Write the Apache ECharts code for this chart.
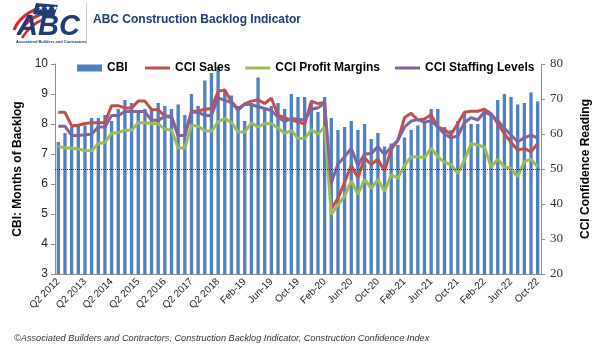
<!DOCTYPE html>
<html>
<head>
<meta charset="utf-8">
<title>ABC Construction Backlog Indicator</title>
<script src="https://cdn.jsdelivr.net/npm/echarts@6/dist/echarts.min.js"></script>
<style>
  html, body { margin: 0; padding: 0; background: #ffffff; }
  #chart_example { width: 600px; height: 354px; }
</style>
</head>
<body>
<div id="chart_example"></div>
<script>
// categories: quarterly until Q4 2018, then monthly
const categories = [
  "Q2 2012", "Q3 2012", "Q4 2012", "Q1 2013", "Q2 2013", "Q3 2013", "Q4 2013",
  "Q1 2014", "Q2 2014", "Q3 2014", "Q4 2014", "Q1 2015", "Q2 2015", "Q3 2015",
  "Q4 2015", "Q1 2016", "Q2 2016", "Q3 2016", "Q4 2016", "Q1 2017", "Q2 2017",
  "Q3 2017", "Q4 2017", "Q1 2018", "Q2 2018", "Q3 2018", "Q4 2018",
  "Jan-19", "Feb-19", "Mar-19", "Apr-19", "May-19", "Jun-19", "Jul-19", "Aug-19",
  "Sep-19", "Oct-19", "Nov-19", "Dec-19",
  "Jan-20", "Feb-20", "Mar-20", "Apr-20", "May-20", "Jun-20", "Jul-20", "Aug-20",
  "Sep-20", "Oct-20", "Nov-20", "Dec-20",
  "Jan-21", "Feb-21", "Mar-21", "Apr-21", "May-21", "Jun-21", "Jul-21", "Aug-21",
  "Sep-21", "Oct-21", "Nov-21", "Dec-21",
  "Jan-22", "Feb-22", "Mar-22", "Apr-22", "May-22", "Jun-22", "Jul-22", "Aug-22",
  "Sep-22", "Oct-22"
];

// CBI, months of backlog (left axis)
const cbi = [
  7.4, 7.7, 7.9, 8.0, 7.95, 8.2, 8.2, 8.3, 8.1, 8.5,
  8.8, 8.7, 8.45, 8.5, 8.5, 8.7, 8.6, 8.5, 8.65, 8.3,
  9.0, 8.6, 9.45, 9.7, 9.9, 9.1, 8.95, 8.6, 8.1, 8.7,
  9.55, 8.5, 8.6, 8.7, 8.5, 9.0, 8.9, 8.9, 8.7, 8.4,
  8.9, 8.2, 7.8, 7.9, 8.1, 7.8, 8.0, 7.5, 7.7, 7.25,
  7.35, 7.3, 7.55, 7.8, 7.95, 8.05, 8.5, 8.5, 7.9, 7.8,
  8.1, 8.4, 8.0, 8.0, 8.45, 8.3, 8.8, 9.0, 8.9, 8.65,
  8.7, 9.05, 8.75
];

// CCI readings (right axis)
const ccisales = [
  66.2, 66.2, 62.3, 62.5, 63.0, 63.2, 63.2, 63.3, 68.1, 68.1,
  67.4, 67.4, 69.4, 69.4, 67.0, 66.9, 65.2, 65.0, 59.6, 59.6,
  66.5, 66.5, 67.1, 67.3, 72.2, 72.6, 69.2, 67.2, 68.6, 69.4,
  69.8, 68.7, 70.2, 65.4, 64.6, 64.0, 63.5, 62.8, 69.4, 68.7,
  69.0, 38.6, 41.6, 46.2, 51.0, 47.5, 53.1, 51.3, 52.8, 49.4,
  55.6, 58.2, 64.7, 65.9, 64.0, 64.3, 65.5, 62.0, 61.2, 59.9,
  63.0, 66.2, 66.5, 66.5, 67.1, 65.8, 63.0, 60.1, 57.6, 55.4,
  55.9, 54.9, 57.3
];
const ccimargins = [
  56.4, 56.1, 55.9, 55.7, 55.3, 55.2, 57.3, 57.6, 60.2, 60.4,
  61.1, 61.1, 63.2, 63.2, 63.0, 62.9, 61.4, 61.1, 56.0, 56.0,
  62.5, 62.2, 60.9, 60.8, 63.5, 64.4, 63.3, 60.6, 60.6, 63.2,
  62.0, 63.0, 62.9, 61.7, 60.2, 61.0, 58.8, 58.7, 61.2, 60.0,
  62.0, 37.0, 39.7, 42.2, 46.6, 42.8, 47.0, 44.5, 47.0, 43.6,
  48.3, 47.4, 51.0, 53.5, 53.5, 53.2, 56.0, 53.5, 51.9, 51.3,
  48.7, 52.5, 57.3, 56.8, 56.3, 50.6, 52.8, 50.6, 50.2, 47.8,
  52.1, 52.8, 50.6
];
const ccistaffing = [
  62.2, 62.2, 59.6, 59.6, 59.8, 59.9, 62.0, 62.0, 65.3, 65.3,
  66.4, 66.4, 66.4, 66.4, 63.9, 63.9, 65.0, 64.8, 59.6, 59.6,
  66.2, 66.2, 65.3, 65.3, 70.3, 69.6, 69.0, 66.8, 68.5, 68.4,
  67.8, 67.3, 66.7, 64.8, 63.6, 64.4, 64.2, 64.0, 67.0, 67.5,
  68.7, 46.0, 51.4, 53.5, 55.9, 51.0, 54.3, 54.4, 56.4, 54.1,
  56.3, 58.2, 62.0, 63.7, 64.1, 63.4, 63.8, 62.0, 60.0, 58.9,
  59.5, 63.2, 64.7, 64.0, 66.3, 65.4, 63.9, 61.6, 59.7, 57.8,
  58.9, 59.7, 58.9
];

const leftTicks = { min: 3, max: 10, step: 1 };
const rightTicks = { min: 20, max: 80, step: 10 };
const neutral = 50; // dotted reference line on the CCI axis

const navy = "#1f3c78";
const legendText = {
  fontFamily: "Liberation Sans",
  fontWeight: "bold",
  fontSize: 12,
  color: "#000"
};

let myChart = echarts.init(document.getElementById("chart_example"));
let option = {
  animation: false,
  backgroundColor: "#ffffff",
  textStyle: { fontFamily: "Liberation Sans" },
  graphic: [
    // logo (rough)
    {
      type: "bezierCurve",
      shape: { x1: 14, y1: 30, x2: 44, y2: 6, cpx1: 20, cpy1: 14 },
      style: { stroke: "#d6262e", lineWidth: 3, fill: null }
    },
    {
      type: "bezierCurve",
      shape: { x1: 18, y1: 34, x2: 44, y2: 13, cpx1: 26, cpy1: 19 },
      style: { stroke: "#d6262e", lineWidth: 3, fill: null }
    },
    {
      type: "bezierCurve",
      shape: { x1: 22, y1: 38, x2: 42, y2: 20, cpx1: 30, cpy1: 25 },
      style: { stroke: "#d6262e", lineWidth: 2.5, fill: null }
    },
    {
      type: "polygon",
      shape: { points: [[36, 3], [58, 5], [54, 17], [33, 14]] },
      style: { fill: navy }
    },
    {
      type: "text",
      left: 38,
      top: 5,
      style: { text: "★ ★ ★", font: "6px 'DejaVu Sans'", fill: "#fff" }
    },
    {
      type: "text",
      left: 17,
      top: 12,
      style: { text: "ABC", font: "italic bold 29px 'Liberation Sans'", fill: navy }
    },
    {
      type: "text",
      left: 16,
      top: 40,
      style: { text: "Associated Builders and Contractors", font: "bold 4px 'Liberation Sans'", fill: navy }
    },
    {
      type: "line",
      shape: { x1: 86.5, y1: 3, x2: 86.5, y2: 44 },
      style: { stroke: "#c8c8c8", lineWidth: 1 }
    },
    {
      type: "text",
      left: 93,
      top: 14,
      style: { text: "ABC Construction Backlog Indicator", font: "bold 12px 'Liberation Sans'", fill: navy }
    },
    {
      type: "text",
      left: 14,
      top: 334,
      style: {
        text: "©Associated Builders and Contractors, Construction Backlog Indicator, Construction Confidence Index",
        font: "italic 9.2px 'Liberation Sans'",
        fill: "#333"
      }
    }
  ],
  legend: [
    {
      left: 72,
      top: 57,
      data: ["CBI"],
      icon: "rect",
      itemWidth: 25,
      itemHeight: 7,
      textStyle: legendText
    },
    {
      left: 140,
      top: 57,
      data: ["CCI Sales", "CCI Profit Margins", "CCI Staffing Levels"],
      icon: "rect",
      itemWidth: 25,
      itemHeight: 3,
      itemGap: 15,
      textStyle: legendText
    }
  ],
  grid: { left: 55, right: 53, top: 64, bottom: 80 },
  xAxis: {
    type: "category",
    data: categories,
    axisLine: { lineStyle: { color: "#8c8c8c" } },
    axisTick: { interval: 0, length: 4, lineStyle: { color: "#8c8c8c" } },
    axisLabel: {
      interval: 3,
      rotate: 45,
      fontSize: 10,
      color: "#222",
      margin: 6
    }
  },
  yAxis: [
    {
      type: "value",
      min: leftTicks.min,
      max: leftTicks.max,
      interval: leftTicks.step,
      name: "CBI: Months of Backlog",
      nameLocation: "middle",
      nameGap: 26,
      nameTextStyle: { fontWeight: "bold", fontSize: 12, color: "#000" },
      axisLine: { show: true, lineStyle: { color: "#8c8c8c" } },
      axisTick: { show: true, length: 4, lineStyle: { color: "#8c8c8c" } },
      axisLabel: { fontSize: 12, color: "#222", margin: 7 },
      splitLine: { show: false }
    },
    {
      type: "value",
      min: rightTicks.min,
      max: rightTicks.max,
      interval: rightTicks.step,
      name: "CCI Confidence Reading",
      nameLocation: "middle",
      nameRotate: 90,
      nameGap: 39,
      nameTextStyle: { fontWeight: "bold", fontSize: 12, color: "#000" },
      axisLine: { show: true, lineStyle: { color: "#8c8c8c" } },
      axisTick: { show: true, length: 4, lineStyle: { color: "#8c8c8c" } },
      axisLabel: {
        fontSize: 13,
        fontFamily: "Liberation Serif",
        color: "#333",
        margin: 9
      },
      splitLine: { show: false }
    }
  ],
  series: [
    {
      name: "CBI",
      type: "bar",
      data: cbi,
      barCategoryGap: "50%",
      itemStyle: { color: "#4f81bd" }
    },
    {
      name: "CCI Sales",
      type: "line",
      yAxisIndex: 1,
      data: ccisales,
      symbol: "none",
      lineStyle: { width: 3, color: "#c0504d" },
      itemStyle: { color: "#c0504d" },
      markLine: {
        silent: true,
        symbol: "none",
        label: { show: false },
        lineStyle: { type: "dotted", color: "#333", width: 1 },
        data: [{ yAxis: neutral }]
      }
    },
    {
      name: "CCI Profit Margins",
      type: "line",
      yAxisIndex: 1,
      data: ccimargins,
      symbol: "none",
      lineStyle: { width: 3, color: "#9bbb59" },
      itemStyle: { color: "#9bbb59" }
    },
    {
      name: "CCI Staffing Levels",
      type: "line",
      yAxisIndex: 1,
      data: ccistaffing,
      symbol: "none",
      lineStyle: { width: 3, color: "#8064a2" },
      itemStyle: { color: "#8064a2" }
    }
  ]
};
myChart.setOption(option);
</script>
</body>
</html>
